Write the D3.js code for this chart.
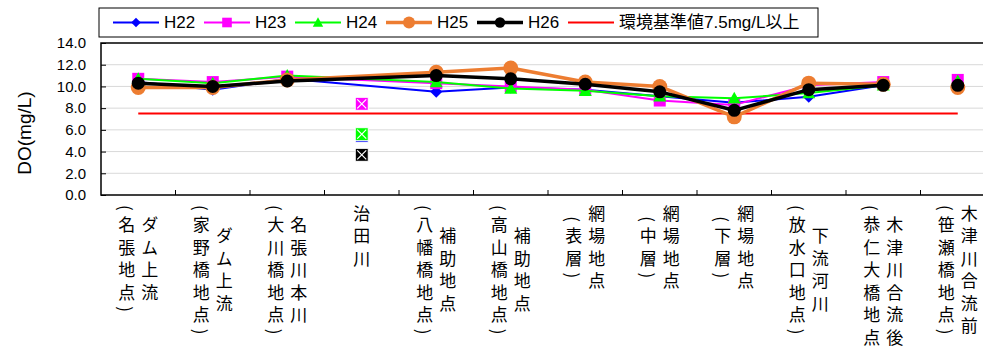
<!DOCTYPE html>
<html>
<head>
<meta charset="utf-8">
<script src="https://cdn.jsdelivr.net/npm/d3@7"></script>
<style>
  body { margin: 0; background: #fff; }
  svg { display: block; font-family: "Liberation Sans", "Noto Sans CJK JP", sans-serif; }
</style>
</head>
<body>
<div id="chart"></div>
<script>
// 地点名（縦書き：1列目が右、2列目が左）
const categories = [
  ["ダム上流", "（名張地点）"],
  ["ダム上流", "（家野橋地点）"],
  ["名張川本川", "（大川橋地点）"],
  ["治田川"],
  ["補助地点", "（八幡橋地点）"],
  ["補助地点", "（高山橋地点）"],
  ["網場地点", "（表層）"],
  ["網場地点", "（中層）"],
  ["網場地点", "（下層）"],
  ["下流河川", "（放水口地点）"],
  ["木津川合流後", "（恭仁大橋地点）"],
  ["木津川合流前", "（笹瀬橋地点）"]
];

const seriesNames = ["H22", "H23", "H24", "H25", "H26"];
const h22 = [10.4, 9.7, 10.7, 5.45, 9.5, 9.9, 9.7, 9.1, 8.5, 9.05, 10.1, 10.2];
const h23 = [10.7, 10.4, 10.9, 8.4, 10.3, 10.0, 9.7, 8.7, 8.3, 10.1, 10.4, 10.6];
const h24 = [10.7, 10.3, 11.0, 5.6, 10.4, 9.8, 9.6, 9.1, 8.9, 9.4, 10.1, 10.5];
const h25 = [9.9, 9.9, 10.6, null, 11.3, 11.7, 10.4, 10.0, 7.2, 10.3, 10.2, 9.9];
const h26 = [10.3, 10.0, 10.5, 3.7, 11.0, 10.7, 10.2, 9.5, 7.8, 9.7, 10.1, 10.1];
const standardName = "環境基準値7.5mg/L以上";
const standardValue = 7.5;
const yTicks = [0, 2, 4, 6, 8, 10, 12, 14];

// 治田川（index 3）と木津川合流前（index 11）は線でつながない
const isolatedX = 3;
const isolatedEnd = 11;

const styles = [
  { color: "#0000ff", width: 2, marker: "diamond", size: 6 },
  { color: "#ff00ff", width: 2, marker: "square", size: 6 },
  { color: "#00ff00", width: 2, marker: "triangle", size: 6.5 },
  { color: "#ed7d31", width: 3.5, marker: "circle", size: 7.5 },
  { color: "#000000", width: 3.5, marker: "circle", size: 6.5 }
];
const series = [h22, h23, h24, h25, h26].map((v, k) => ({ name: seriesNames[k], values: v, style: styles[k] }));

const W = 983, H = 349;
const plot = { left: 101, top: 43, right: 995, bottom: 195 };

const svg = d3.select("#chart").append("svg")
  .attr("width", W).attr("height", H);

const x = d3.scaleBand()
  .domain(categories.map((d, i) => i))
  .range([plot.left, plot.right])
  .padding(0);

const y = d3.scaleLinear()
  .domain([0, 14])
  .range([plot.bottom, plot.top]);

const cx = i => x(i) + x.bandwidth() / 2;

// グリッド線
svg.append("g")
  .selectAll("line")
  .data(yTicks.filter(t => t > 0 && t < 14))
  .enter().append("line")
  .attr("x1", plot.left).attr("x2", plot.right)
  .attr("y1", d => y(d)).attr("y2", d => y(d))
  .attr("stroke", "#d9d9d9").attr("stroke-width", 1);

// Y軸
const yAxis = svg.append("g")
  .attr("transform", "translate(" + plot.left + ",0)")
  .call(d3.axisLeft(y).tickValues(yTicks).tickSize(-5).tickPadding(15).tickFormat(d => d.toFixed(1)));
yAxis.select(".domain").remove();
yAxis.selectAll(".tick line").attr("stroke", "#000");
yAxis.selectAll("text")
  .attr("font-size", "15px")
  .attr("font-family", "Liberation Sans, sans-serif")
  .attr("fill", "#000");

// X軸（目盛りは内向き、区切り位置）
svg.append("g")
  .selectAll("line")
  .data(d3.range(1, categories.length))
  .enter().append("line")
  .attr("x1", d => x(d)).attr("x2", d => x(d))
  .attr("y1", plot.bottom).attr("y2", plot.bottom - 5)
  .attr("stroke", "#000");

// プロットエリアの枠
svg.append("rect")
  .attr("x", plot.left).attr("y", plot.top)
  .attr("width", plot.right - plot.left).attr("height", plot.bottom - plot.top)
  .attr("fill", "none").attr("stroke", "#000").attr("stroke-width", 1.5);

// 縦書きラベル（列ごとに1つのtext、最長の列に合わせて中央揃え）
const labelTop = 205;
const toVertical = s => s.replace(/（/g, "(").replace(/）/g, ")");
categories.forEach((lines, i) => {
  const cols = lines.map((line, j) => {
    const colX = lines.length === 1 ? cx(i) : cx(i) + (j === 0 ? 11.5 : -11.5);
    return svg.append("text")
      .attr("x", colX)
      .attr("y", 0)
      .attr("text-anchor", "middle")
      .style("writing-mode", "vertical-rl")
      .style("text-orientation", "mixed")
      .style("letter-spacing", "5.5px")
      .attr("font-family", "Noto Sans CJK JP")
      .attr("font-size", "17px")
      .attr("fill", "#000")
      .text(toVertical(line));
  });
  const lens = cols.map(t => t.node().getComputedTextLength());
  const maxLen = d3.max(lens);
  cols.forEach(t => t.attr("y", labelTop + maxLen / 2));
});

// Y軸タイトル
svg.append("text")
  .attr("transform", "translate(31,133) rotate(-90)")
  .attr("text-anchor", "middle")
  .attr("font-size", "19px")
  .attr("fill", "#000")
  .text("DO(mg/L)");

// 環境基準線
svg.append("line")
  .attr("x1", cx(0)).attr("x2", cx(categories.length - 1))
  .attr("y1", y(standardValue)).attr("y2", y(standardValue))
  .attr("stroke", "#ff0000").attr("stroke-width", 2);

function drawMarker(g, type, px, py, s, color) {
  if (type === "circle") {
    g.append("circle").attr("cx", px).attr("cy", py).attr("r", s).attr("fill", color);
  } else if (type === "square") {
    g.append("rect").attr("x", px - s).attr("y", py - s).attr("width", 2 * s).attr("height", 2 * s).attr("fill", color);
  } else if (type === "diamond") {
    g.append("path").attr("d", `M${px},${py - s}L${px + s},${py}L${px},${py + s}L${px - s},${py}Z`).attr("fill", color);
  } else if (type === "triangle") {
    g.append("path").attr("d", `M${px},${py - s}L${px + s},${py + s * 0.8}L${px - s},${py + s * 0.8}Z`).attr("fill", color);
  }
}

const line = d3.line()
  .x(d => cx(d.i))
  .y(d => y(d.v));

series.forEach(s => {
  const g = svg.append("g");
  const pts = s.values.map((v, i) => ({ i, v }))
    .filter(d => d.v !== null && d.i !== isolatedX && d.i !== isolatedEnd);
  g.append("path")
    .attr("d", line(pts))
    .attr("fill", "none")
    .attr("stroke", s.style.color)
    .attr("stroke-width", s.style.width)
    .attr("stroke-linejoin", "round");
  pts.concat([{ i: isolatedEnd, v: s.values[isolatedEnd] }]).forEach(d => {
    drawMarker(g, s.style.marker, cx(d.i), y(d.v), s.style.size, s.style.color);
  });
  // 治田川は×付きの四角
  const v = s.values[isolatedX];
  if (v !== null) {
    const px = cx(isolatedX), py = y(v), r = 6.5;
    g.append("rect").attr("x", px - r).attr("y", py - r).attr("width", 2 * r).attr("height", 2 * r)
      .attr("fill", s.style.color).attr("stroke", "#fff").attr("stroke-width", 1);
    g.append("path")
      .attr("d", `M${px - r + 2},${py - r + 2}L${px + r - 2},${py + r - 2}M${px + r - 2},${py - r + 2}L${px - r + 2},${py + r - 2}`)
      .attr("stroke", "#fff").attr("stroke-width", 1.2);
  }
});

// 凡例
const legend = svg.append("g");
legend.append("rect")
  .attr("x", 99).attr("y", 8).attr("width", 719).attr("height", 29)
  .attr("fill", "#fff").attr("stroke", "#000").attr("stroke-width", 1);
const legendItems = series.map(s => ({ name: s.name, style: s.style }))
  .concat([{ name: standardName, style: { color: "#ff0000", width: 2, marker: null } }]);
legendItems.forEach((d, k) => {
  const lx = 113 + k * 91, ly = 22.5;
  legend.append("line")
    .attr("x1", lx).attr("x2", lx + 46).attr("y1", ly).attr("y2", ly)
    .attr("stroke", d.style.color).attr("stroke-width", d.style.width);
  if (d.style.marker) drawMarker(legend, d.style.marker, lx + 23, ly, d.style.size * 0.8, d.style.color);
  legend.append("text")
    .attr("x", lx + 51).attr("y", ly)
    .attr("dominant-baseline", "central")
    .attr("font-size", "17px")
    .attr("fill", "#000")
    .text(d.name);
});
</script>
</body>
</html>
